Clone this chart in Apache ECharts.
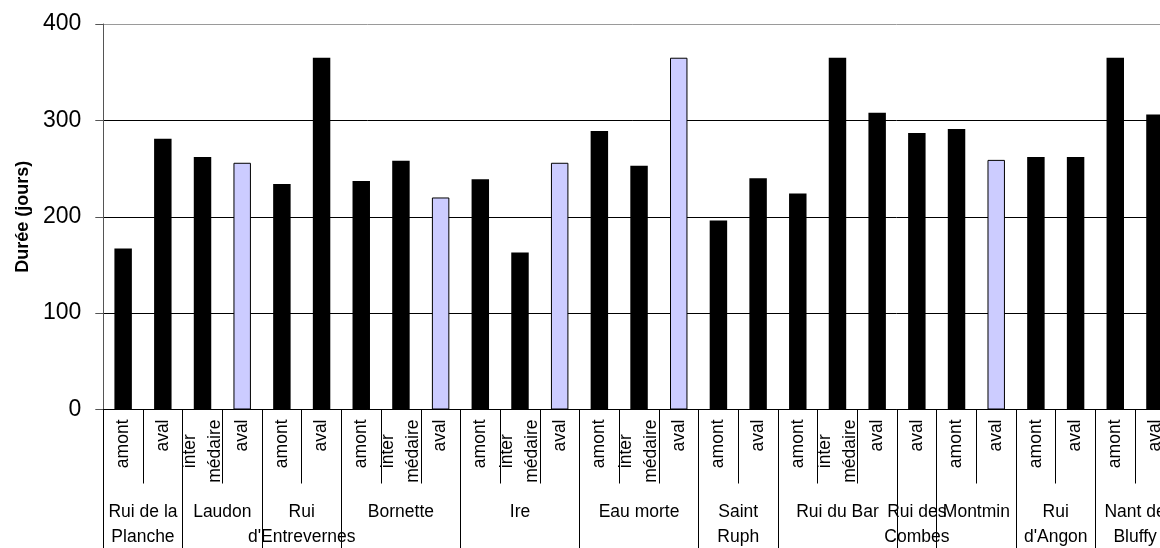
<!DOCTYPE html>
<html><head><meta charset="utf-8">
<script src="https://cdn.jsdelivr.net/npm/echarts@6/dist/echarts.min.js"></script>
<style>html,body{margin:0;padding:0;background:#fff}#c{width:1160px;height:548px}</style>
</head><body><div id="c"></div>
<script>
// ---- data ----
const stationLabels = ['amont','aval','inter\nmédaire','aval','amont','aval','amont','inter\nmédaire','aval',
  'amont','inter\nmédaire','aval','amont','inter\nmédaire','aval','amont','aval','amont','inter\nmédaire','aval',
  'aval','amont','aval','amont','aval','amont','aval'];
const durations = [167, 281, 262, 256, 234, 365, 237, 258, 220, 239, 163, 256, 289, 253, 365, 196, 240,
  224, 365, 308, 287, 291, 259, 262, 262, 365, 306];
const lightBars = [3, 8, 11, 14, 22];
const groupNames = ['Rui de la\nPlanche','Laudon',"Rui\nd'Entrevernes",'Bornette','Ire','Eau morte','Saint\nRuph',
  'Rui du Bar','Rui des\nCombes','Montmin',"Rui\nd'Angon",'Nant de\nBluffy'];
const groupSizes = [2,2,2,3,3,3,2,3,1,2,2,2];
const yTicks = [0,100,200,300,400];
const yTitle = 'Durée (jours)';

// ---- build outer (group) axis on half-category steps ----
const FONT = 'Liberation Sans, Arial, sans-serif';
const groupCenters = {};
const groupBounds = new Set([0]);
let pos = 0;
groupSizes.forEach((n, i) => { groupCenters[2*pos + n] = groupNames[i]; pos += n; groupBounds.add(2*pos); });
const outerCats = [];
for (let k = 0; k <= 2*pos; k++) outerCats.push(String(k));

const chart = echarts.init(document.getElementById('c'), null, {renderer:'canvas'});
chart.setOption({
  animation: false,
  backgroundColor: '#fff',
  grid: {left: 103.3, width: 1071.5, top: 24, height: 385.5, outerBoundsMode: 'none', containLabel: false},
  xAxis: [{
    type: 'category', position: 'bottom', data: stationLabels,
    axisLine: {lineStyle: {color: '#000', width: 1}},
    axisTick: {show: true, interval: 0, length: 74, lineStyle: {color: '#000'}},
    axisLabel: {
      interval: 0, rotate: 90, margin: 10, color: '#000',
      formatter: v => v.split('\n').map(t => '{c|' + t + '}').join('\n'),
      rich: {c: {align: 'center', fontSize: 17.5, lineHeight: 25, fontFamily: FONT, color: '#000'}}
    },
    splitLine: {show: false}
  }, {
    type: 'category', position: 'bottom', data: outerCats, boundaryGap: false,
    axisLine: {show: false},
    axisTick: {show: true, interval: (i) => groupBounds.has(i), length: 140, lineStyle: {color: '#000'}},
    axisLabel: {
      interval: 0, margin: 90, color: '#000', fontSize: 17.5, lineHeight: 25, fontFamily: FONT,
      formatter: (v, i) => groupCenters[i] || ''
    },
    splitLine: {show: false}
  }],
  yAxis: {
    type: 'value', min: yTicks[0], max: yTicks[yTicks.length-1], interval: 100,
    name: yTitle, nameLocation: 'middle', nameGap: 70,
    nameTextStyle: {fontSize: 18, fontWeight: 'bold', fontFamily: FONT, color: '#000'},
    axisLine: {show: true, lineStyle: {color: '#555'}},
    axisTick: {show: true, length: 8, lineStyle: {color: '#555'}},
    axisLabel: {fontSize: 23, fontFamily: FONT, color: '#000', margin: 22},
    splitLine: {show: true, lineStyle: {color: ['#000','#000','#000','#000','#9a9a9a'], width: 1}}
  },
  series: [{
    type: 'bar', xAxisIndex: 0, barWidth: '44%',
    itemStyle: {color: '#000'},
    data: durations.map((v, i) => lightBars.includes(i)
      ? {value: v, itemStyle: {color: '#CCCCFF', borderColor: '#000', borderWidth: 1}}
      : v)
  }]
});
</script>
</body></html>
